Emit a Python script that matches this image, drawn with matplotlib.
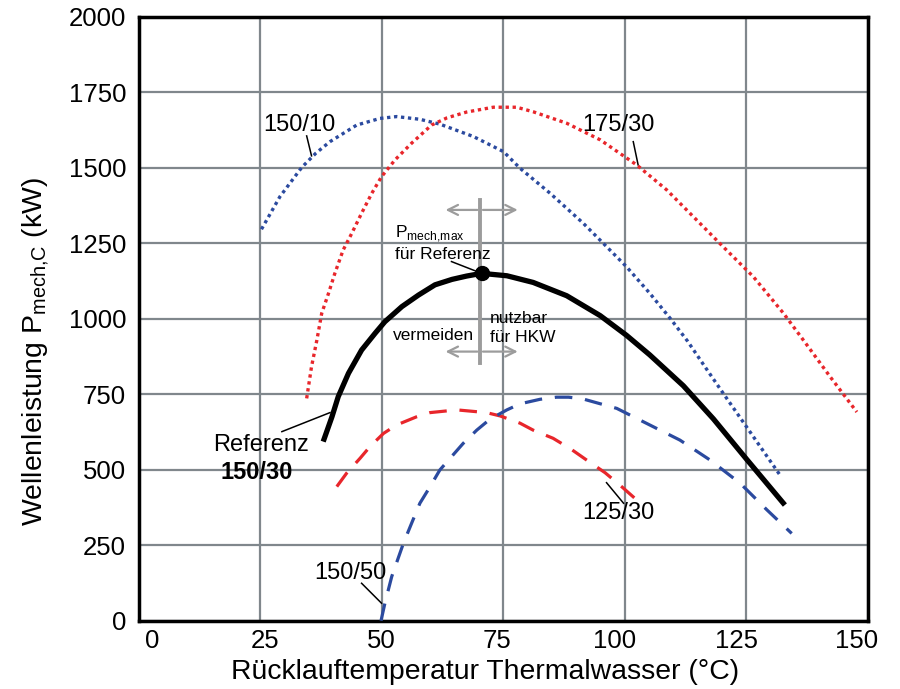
import matplotlib.pyplot as plt
from matplotlib.transforms import ScaledTranslation

plt.rcParams['font.family'] = ['Liberation Sans', 'DejaVu Sans']
plt.rcParams['mathtext.fontset'] = 'custom'
plt.rcParams['mathtext.rm'] = 'Liberation Sans'

# Rücklauftemperatur (°C) / Wellenleistung (kW)
ref_x = [38.0, 39.8, 41.1, 43.2, 45.9, 48.7, 50.7, 54.2, 57.6, 61.0, 64.5, 67.5, 70.6,
         75.8, 81.2, 88.1, 95.0, 100.4, 105.2, 112.1, 118.3, 125.1, 133.0]
ref_y = [593, 675, 742, 819, 896, 952, 990, 1040, 1078, 1112, 1130, 1141, 1150,
         1142, 1120, 1076, 1010, 945, 880, 778, 668, 535, 383]

b10_x = [25.3, 29.1, 33.6, 36.5, 39.4, 44.9, 49.7, 53.1, 57.9, 62.0, 68.9, 75.1, 78.5,
         84.7, 91.5, 95.6, 100.4, 105.2, 109.4, 113.0, 116.5, 120.3, 125.1, 132.0]
b10_y = [1296, 1404, 1501, 1548, 1586, 1641, 1663, 1669, 1660, 1644, 1603, 1553, 1498,
         1415, 1316, 1250, 1172, 1084, 1001, 925, 842, 753, 642, 482]

r175_x = [34.6, 35.6, 36.7, 37.7, 39.1, 40.4, 42.1, 43.9, 45.9, 48.0, 50.0, 52.8, 56.2,
          60.3, 63.5, 67.5, 73.0, 77.8, 81.2, 88.1, 95.0, 102.5, 108.7, 115.5, 120.3,
          126.5, 132.7, 136.8, 142.3, 147.8]
r175_y = [736, 841, 929, 1018, 1084, 1150, 1227, 1283, 1349, 1415, 1470, 1526, 1581,
          1641, 1665, 1684, 1700, 1700, 1685, 1647, 1592, 1509, 1426, 1316, 1238,
          1139, 1018, 929, 808, 691]

r125_x = [40.8, 42.8, 45.6, 47.6, 50.4, 53.1, 57.2, 60.0, 65.5, 71.6, 74.4, 78.5, 81.2,
          85.3, 89.0, 92.2, 96.0, 99.4, 102.5]
r125_y = [444, 488, 538, 576, 620, 648, 675, 689, 698, 689, 678, 654, 631,
          604, 568, 532, 490, 444, 400]

b50_x = [49.9, 50.7, 52.1, 54.5, 56.2, 57.9, 60.0, 62.0, 64.4, 66.8, 69.6, 72.3, 75.8,
         78.5, 82.6, 86.0, 88.5, 91.5, 98.4, 105.2, 111.4, 117.6, 123.8, 129.3, 134.4]
b50_y = [0, 58, 146, 256, 323, 389, 444, 499, 543, 587, 631, 667, 698,
         718, 733, 740, 740, 734, 703, 648, 598, 532, 455, 367, 289]

pmax_x, pmax_y = 70.6, 1150

# offsets (px) of the x tick labels as placed in the original
xtick_shift = [13.5, 5, -0.5, -6, -10, -9.5, -10.5]

blue = '#2b4a9f'
red = '#e8262b'
grey = '#9c9c9c'

fig = plt.figure(figsize=(9, 6.89), dpi=100)
ax = fig.add_axes([0.1539, 0.0991, 0.81, 0.8768])

ax.plot(b10_x, b10_y, color=blue, lw=2.4, linestyle=(0, (1, 1.1)), zorder=3)
ax.plot(r175_x, r175_y, color=red, lw=2.4, linestyle=(0, (1, 1.1)), zorder=3)
ax.plot(r125_x, r125_y, color=red, lw=2.3, linestyle=(0, (5.5, 4)), zorder=3)
ax.plot(b50_x, b50_y, color=blue, lw=2.3, linestyle=(0, (5.5, 4)), zorder=3)
ax.plot(ref_x, ref_y, color='black', lw=3.8, solid_capstyle='butt', zorder=4)

# Pmech,max marker and usable range
ax.plot([70.3, 70.3], [852, 1393], color=grey, lw=2.8, zorder=2)
for yy in (1360, 891):
    ax.annotate('', xy=(62.6, yy), xytext=(70.3, yy),
                arrowprops=dict(arrowstyle='->', color=grey, lw=1.6, mutation_scale=18))
    ax.annotate('', xy=(78.6, yy), xytext=(70.3, yy),
                arrowprops=dict(arrowstyle='->', color=grey, lw=1.6, mutation_scale=18))
ax.plot([pmax_x], [pmax_y], 'o', color='black', ms=10, zorder=5)
ax.plot([64.4, pmax_x], [1189, pmax_y], color='black', lw=1.1, zorder=5)

ax.text(52.8, 1280, r'P$_{\mathrm{mech{,}max}}$', fontsize=12.5, va='center', ha='left')
ax.text(52.8, 1213, 'für Referenz', fontsize=12.5, va='center', ha='left')
ax.text(52.4, 945, 'vermeiden', fontsize=12.5, va='center', ha='left')
ax.text(72.3, 1002, 'nutzbar', fontsize=12.5, va='center', ha='left')
ax.text(72.3, 939, 'für HKW', fontsize=12.5, va='center', ha='left')

# curve labels
lbl = dict(fontsize=17, ha='center', va='center')
ax.text(33.2, 1641, '150/10', **lbl)
ax.plot([34.6, 35.6], [1605, 1539], color='black', lw=1.1)
ax.text(98.7, 1641, '175/30', **lbl)
ax.plot([101.8, 102.8], [1586, 1509], color='black', lw=1.1)
ax.text(98.7, 356, '125/30', **lbl)
ax.plot([96.3, 99.8], [457, 389], color='black', lw=1.1)
ax.text(43.5, 157, '150/50', **lbl)
ax.plot([45.9, 50.0], [124, 58], color='black', lw=1.1)
ax.text(15.3, 582, 'Referenz', fontsize=17, ha='left', va='center')
ax.text(16.8, 490, '150/30', fontsize=17, ha='left', va='center', fontweight='bold')
ax.plot([29.5, 39.4], [626, 689], color='black', lw=1.1)

ax.set_xlim(0, 150)
ax.set_ylim(0, 2000)
ax.set_xticks(range(0, 151, 25))
ax.set_yticks(range(0, 2001, 250))
ax.tick_params(length=0, labelsize=18.5)
ax.tick_params(axis='x', pad=6)
ax.tick_params(axis='y', pad=9)
for lab, dx in zip(ax.get_xticklabels(), xtick_shift):
    lab.set_transform(lab.get_transform() + ScaledTranslation(dx / 100, 0, fig.dpi_scale_trans))
ax.grid(True, color='#80878c', lw=1.6, zorder=0)
ax.set_axisbelow(True)
for s in ax.spines.values():
    s.set_linewidth(2.5)
    s.set_color('black')

ax.set_xlabel('Rücklauftemperatur Thermalwasser (°C)', fontsize=20.4)
ax.set_ylabel(r'Wellenleistung P$_{\mathrm{mech{,}C}}$ (kW)', fontsize=20.4)
ax.xaxis.set_label_coords(0.475, -0.064)
ax.yaxis.set_label_coords(-0.118, 0.445)

fig.savefig('out.png', dpi=100)
